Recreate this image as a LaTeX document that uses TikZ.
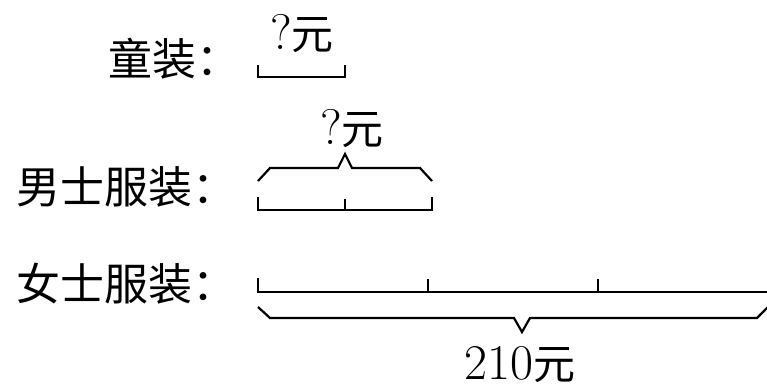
\documentclass[tikz,border=0pt]{standalone}
\usepackage{fontspec}
\newfontfamily\cjk{Noto Sans CJK SC}
\usetikzlibrary{positioning}
\tikzset{
    lbl/.style={inner sep=0pt, font=\fontsize{44}{50}\selectfont\cjk},
    amount/.style={inner sep=0pt, anchor=base, font=\fontsize{50}{56}\selectfont},
    bar/.style={line width=2.2pt, line cap=butt, line join=miter}
}
\newcommand{\yuan}{{\fontsize{42}{48}\selectfont\cjk 元}}

\begin{document}
\begin{tikzpicture}[x=1pt, y=-1pt]
\useasboundingbox (0,0) rectangle (767,389);

% row labels
\node[lbl, anchor=west] (kids) at (108,59) {童装：};
\node[lbl, anchor=west] (men) at (16,187) {男士服装：};
\node[lbl, anchor=west] (women) at (16,284) {女士服装：};

% kids segment
\coordinate (k0) at (258,77);
\coordinate (k1) at (345,77);
\draw[bar] ([yshift=12pt]k0) -- (k0) -- (k1) -- ([yshift=12pt]k1);
\node[amount] (kidsq) at (302,49) {?\yuan};

% men segment: two units
\coordinate (m0) at (258,210);
\coordinate (m1) at (345,210);
\coordinate (m2) at (432,210);
\draw[bar] ([yshift=13pt]m0) -- (m0) -- (m2) -- ([yshift=13pt]m2);
\draw[bar] (m1) -- ([yshift=11pt]m1);
\draw[bar] (258,181) -- (270,168) -- (338,168) -- (345,154) -- (352,168) -- (420,168) -- (432,181);
\node[amount] (menq) at (352,144) {?\yuan};

% women segment: six units
\coordinate (w0) at (258,292);
\coordinate (w1) at (428,292);
\coordinate (w2) at (598,292);
\coordinate (w3) at (768,292);
\draw[bar] ([yshift=14pt]w0) -- (w0) -- (w3);
\foreach \t in {w1,w2} \draw[bar] (\t) -- ([yshift=13pt]\t);
\draw[bar] (258,307) -- (270,318) -- (514,318) -- (522,332) -- (530,318) -- (757,318) -- (768,307);
\node[amount] (total) at (520,379) {210\yuan};

\end{tikzpicture}
\end{document}
